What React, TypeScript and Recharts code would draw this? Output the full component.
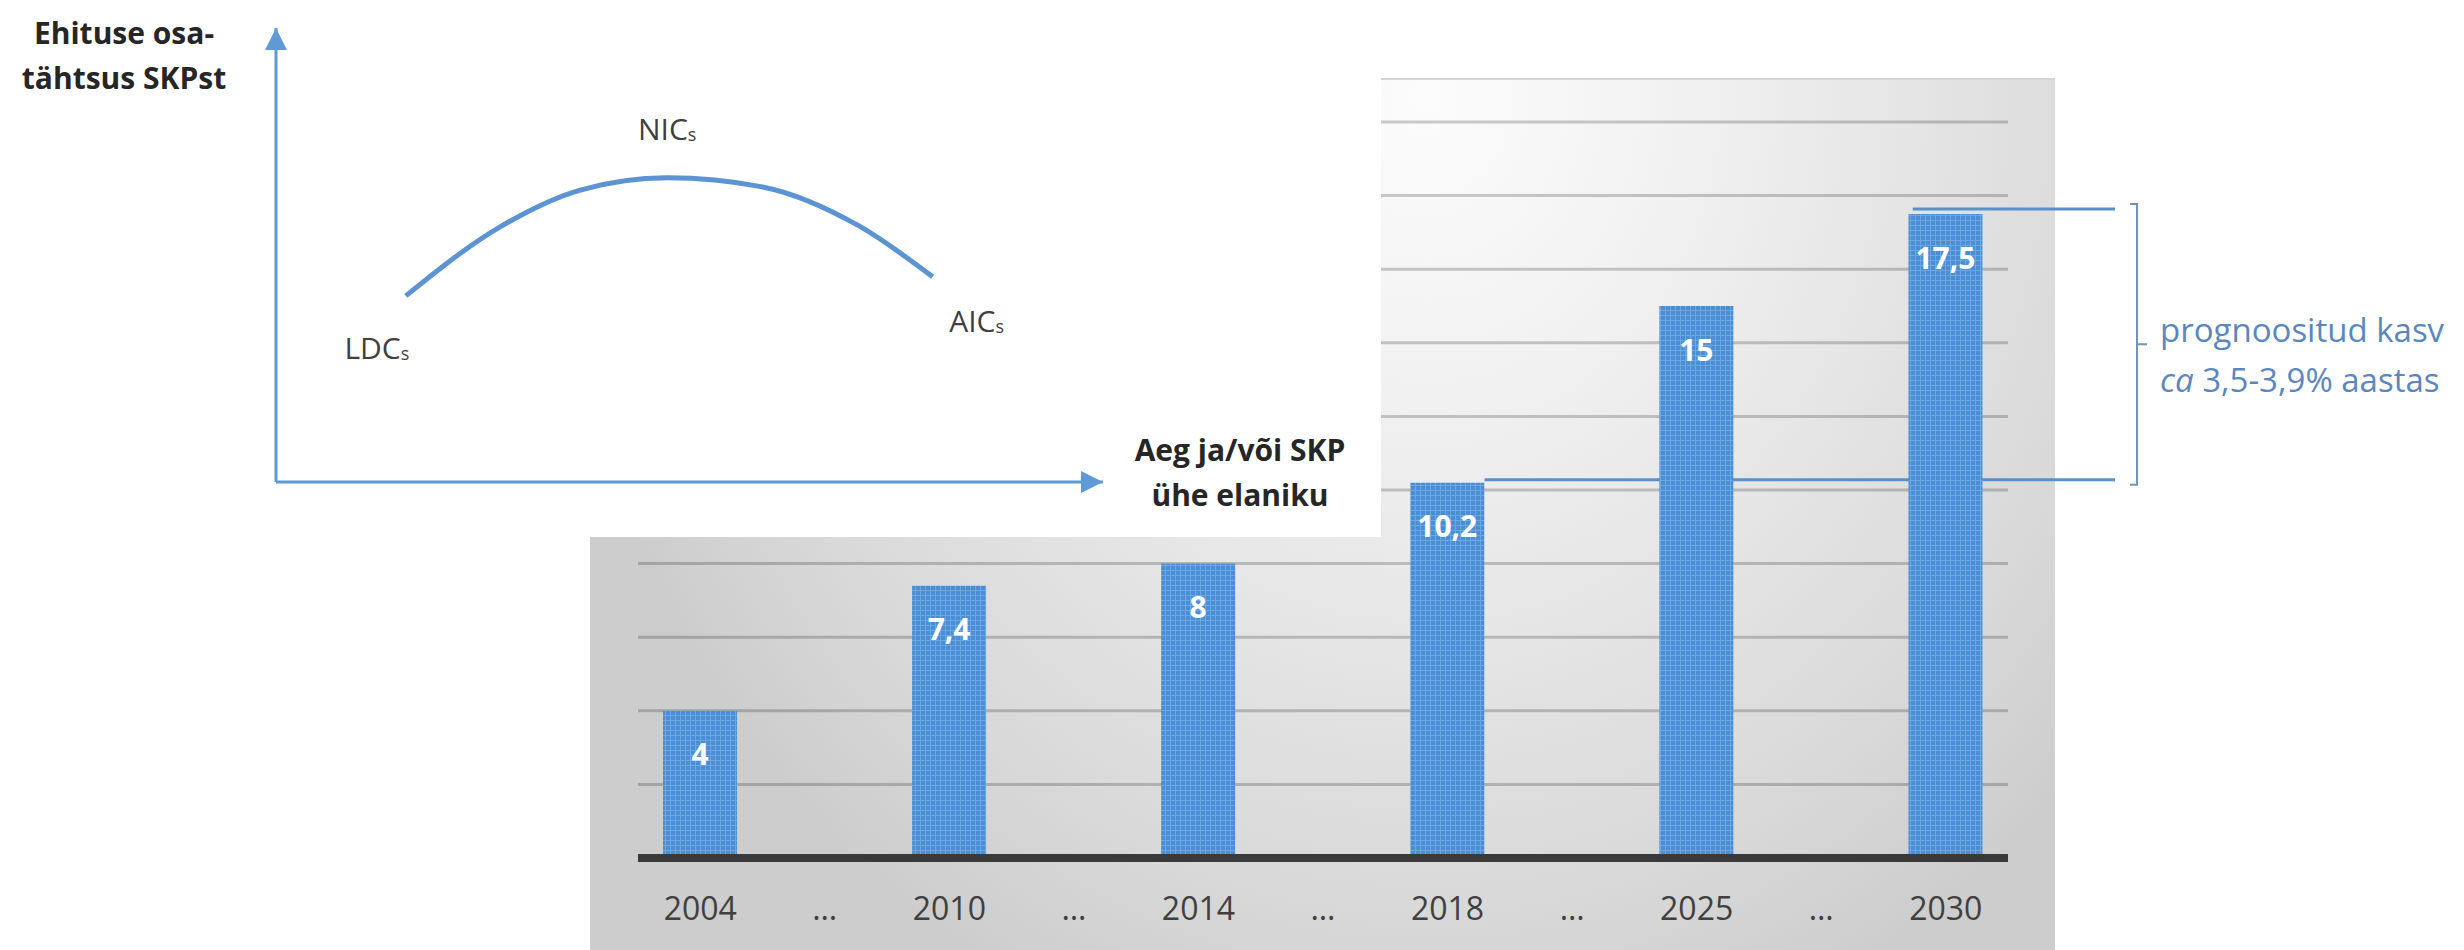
import {
  Bar,
  CartesianGrid,
  ComposedChart,
  LabelList,
  Line,
  LineChart,
  ReferenceArea,
  XAxis,
  YAxis,
} from 'recharts';

// main bar chart
const years = ['2004', '…', '2010', '…', '2014', '…', '2018', '…', '2025', '…', '2030'];
const shares: (number | null)[] = [4, null, 7.4, null, 8, null, 10.2, null, 15, null, 17.5];
const shareTicks = [0, 2, 4, 6, 8, 10, 12, 14, 16, 18, 20];
const forecastFrom = 10.2;
const forecastTo = 17.5;
const forecastPrefix = 'ca';
const forecastLines = ['prognoositud kasv', '3,5-3,9% aastas'];

// inset diagram (development stage curve)
const arcX = [15.7, 27.1, 36.8, 47.3, 58.8, 70.5, 79.4];
const arcY = [41.0, 56.2, 64.3, 67.0, 65.0, 56.4, 45.2];
const stageNames = ['LDC', '', '', 'NIC', '', '', 'AIC'];
const yTitle = ['Ehituse osa-', 'tähtsus SKPst'];
const xTitle = ['Aeg ja/või SKP', 'ühe elaniku'];

const FONT = '"Open Sans", "Noto Sans", sans-serif';
const BAR_SIZE = 74;
const AXIS_BLUE = '#5f9ad6';

const rows = years.map((year, i) => ({ year, share: shares[i] }));
const arcRows = arcX.map((x, i) => ({ x, y: arcY[i], stage: stageNames[i] }));

const fmt = (v: number) => String(v).replace('.', ',');

function YearTick({ x, y, payload }: any) {
  return (
    <text
      x={x}
      y={Number(y) + 49}
      textAnchor="middle"
      dominantBaseline="central"
      fill="#404040"
      fontSize={32}
      fontFamily={FONT}
    >
      {payload.value}
    </text>
  );
}

function NoTick() {
  return <g />;
}

function BarValueLabel(props: any) {
  const { x, y, width, value } = props;
  if (value == null) return null;
  return (
    <text
      x={Number(x) + Number(width) / 2}
      y={Number(y) + 43}
      textAnchor="middle"
      dominantBaseline="central"
      fill="#ffffff"
      fontSize={30}
      fontWeight={700}
      fontFamily={FONT}
    >
      {fmt(Number(value))}
    </text>
  );
}

// lines from the 2018 / 2030 bar tops, bracket and note on the right
function ForecastBracket(props: any) {
  const { x, y, width, height } = props;
  const band = width / years.length;
  const half = BAR_SIZE / 2;
  const right = x + width;
  const fromX = x + band * (shares.indexOf(forecastFrom) + 0.5) + half;
  const toX = x + band * (shares.indexOf(forecastTo) + 0.5) - half;
  const lineEnd = right + 107;
  const bx = right + 129;
  const top = y - 10;
  const bottom = y + height + 2;
  const mid = (top + bottom) / 2;
  return (
    <g>
      <line x1={toX + 4} y1={y - 5} x2={lineEnd} y2={y - 5} stroke="#5b8fc7" strokeWidth={3} />
      <line x1={fromX} y1={y + height - 3} x2={lineEnd} y2={y + height - 3} stroke="#5b8fc7" strokeWidth={3} />
      <path
        d={`M${bx - 7} ${top}H${bx}V${bottom}H${bx - 7}M${bx} ${mid}H${bx + 10}`}
        stroke="#7592b8"
        strokeWidth={2}
        fill="none"
      />
      <text x={right + 152} y={mid - 2} fill="#5b87bd" fontSize={33} fontFamily={FONT}>
        {forecastLines[0]}
      </text>
      <text x={right + 152} y={mid + 48} fill="#5b87bd" fontSize={33} fontFamily={FONT}>
        <tspan fontStyle="italic">{forecastPrefix}</tspan> {forecastLines[1]}
      </text>
    </g>
  );
}

function StageLabel(props: any) {
  const { x, y, value } = props;
  if (!value) return null;
  let dx = 0;
  let dy = -50;
  if (value === stageNames[0]) {
    dx = -29;
    dy = 51;
  } else if (value === stageNames[stageNames.length - 1]) {
    dx = 44;
    dy = 43;
  }
  return (
    <text
      x={Number(x) + dx}
      y={Number(y) + dy}
      textAnchor="middle"
      dominantBaseline="central"
      fill="#3f3f3f"
      fontSize={30}
      fontFamily={FONT}
    >
      <tspan>{value}</tspan>
      <tspan fontSize={18} dy={6}>s</tspan>
    </text>
  );
}

const titleStyle: React.CSSProperties = {
  position: 'absolute',
  textAlign: 'center',
  fontFamily: FONT,
  fontSize: 30,
  fontWeight: 700,
  lineHeight: '45px',
  color: '#262626',
  whiteSpace: 'nowrap',
};

export default function App() {
  return (
    <div
      style={{
        position: 'absolute',
        left: 0,
        top: 0,
        width: 2464,
        height: 950,
        background: '#ffffff',
        overflow: 'hidden',
      }}
    >
      {/* grey chart backdrop */}
      <div
        style={{
          position: 'absolute',
          left: 590,
          top: 78,
          width: 1465,
          height: 872,
          borderTop: '2px solid #d6d6d6',
          background:
            'radial-gradient(ellipse 60% 115% at 57% 2%, #fcfcfc 0%, #f1f1f1 30%, #e5e5e5 55%, #d9d9d9 80%, #cdcdcd 100%)',
        }}
      />

      <div style={{ position: 'absolute', left: 0, top: 0 }}>
        <ComposedChart
          width={2464}
          height={950}
          data={rows}
          margin={{ top: 122, right: 456, bottom: 0, left: 637 }}
          barSize={BAR_SIZE}
        >
          <defs>
            <pattern id="barTexture" width="5" height="5" patternUnits="userSpaceOnUse">
              <rect width="5" height="5" fill="#4a8fd6" />
              <path d="M0 0.5H5M0.5 0V5" stroke="#6ca7e2" strokeWidth="1" />
            </pattern>
          </defs>
          <CartesianGrid
            vertical={false}
            horizontalValues={shareTicks}
            stroke="#000000"
            strokeOpacity={0.2}
            strokeWidth={3}
          />
          <XAxis
            dataKey="year"
            height={92}
            tickSize={0}
            tickMargin={0}
            tickLine={false}
            axisLine={{ stroke: '#3a3a3a', strokeWidth: 8 }}
            tick={<YearTick />}
            interval={0}
          />
          <YAxis
            width={1}
            domain={[0, 20]}
            ticks={shareTicks}
            interval={0}
            tick={<NoTick />}
            tickLine={false}
            axisLine={false}
          />
          <ReferenceArea
            y1={forecastFrom}
            y2={forecastTo}
            ifOverflow="visible"
            shape={(p: any) => <ForecastBracket {...p} />}
          />
          <Bar dataKey="share" fill="url(#barTexture)" isAnimationActive={false}>
            <LabelList dataKey="share" content={<BarValueLabel />} />
          </Bar>
        </ComposedChart>
      </div>

      {/* white inset with the development stage diagram */}
      <div
        style={{
          position: 'absolute',
          left: 0,
          top: 0,
          width: 1381,
          height: 537,
          background: '#ffffff',
        }}
      >
        <LineChart
          width={1381}
          height={537}
          data={arcRows}
          margin={{ top: 28, right: 278, bottom: 54, left: 275 }}
        >
          <defs>
            <marker
              id="arrowHead"
              viewBox="0 0 10 10"
              refX="10"
              refY="5"
              markerWidth="22"
              markerHeight="22"
              markerUnits="userSpaceOnUse"
              orient="auto-start-reverse"
            >
              <path d="M0 0L10 5L0 10z" fill={AXIS_BLUE} />
            </marker>
          </defs>
          <XAxis
            type="number"
            dataKey="x"
            domain={[0, 100]}
            height={1}
            tick={false}
            tickLine={false}
            axisLine={{ stroke: AXIS_BLUE, strokeWidth: 3, markerEnd: 'url(#arrowHead)' }}
          />
          <YAxis
            type="number"
            domain={[0, 100]}
            width={1}
            tick={false}
            tickLine={false}
            axisLine={{ stroke: AXIS_BLUE, strokeWidth: 3, markerStart: 'url(#arrowHead)' }}
          />
          <Line
            type="monotone"
            dataKey="y"
            stroke="#5b93d3"
            strokeWidth={5}
            dot={false}
            isAnimationActive={false}
          >
            <LabelList dataKey="stage" content={<StageLabel />} />
          </Line>
        </LineChart>

        <div style={{ ...titleStyle, left: 0, top: 10, width: 248 }}>
          {yTitle.map((t) => (
            <div key={t}>{t}</div>
          ))}
        </div>
        <div style={{ ...titleStyle, left: 1110, top: 427, width: 260 }}>
          {xTitle.map((t) => (
            <div key={t}>{t}</div>
          ))}
        </div>
      </div>
    </div>
  );
}
